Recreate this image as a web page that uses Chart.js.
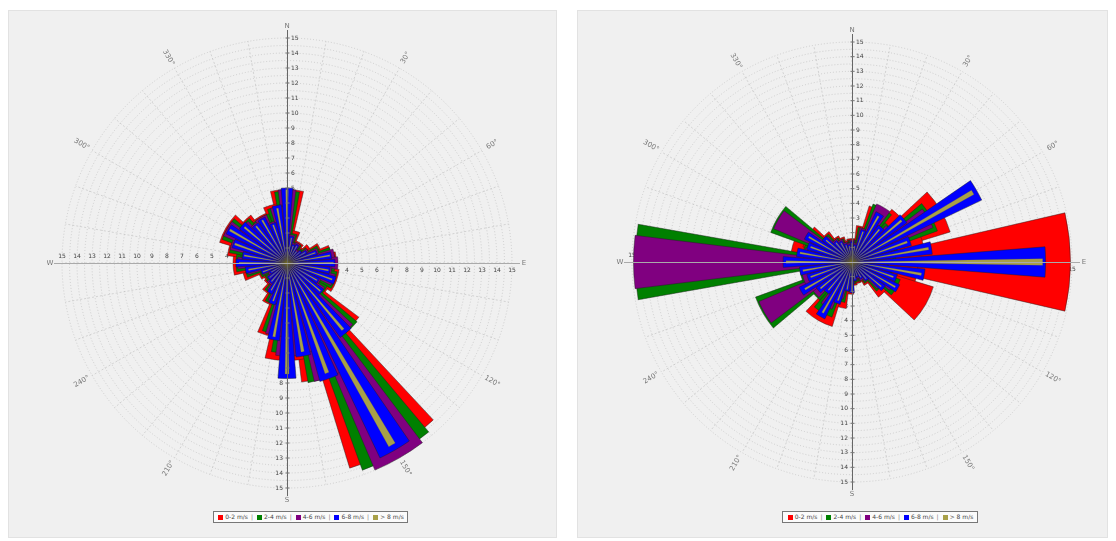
<!DOCTYPE html>
<html>
<head>
<meta charset="utf-8">
<script src="https://cdn.jsdelivr.net/npm/chart.js@4.4.1/dist/chart.umd.min.js"></script>
<style>
  body { margin: 0; background: #fff; font-family: "DejaVu Sans", sans-serif; }
  .panel { position: absolute; top: 10px; height: 528px; background: #f0f0f0; border: 1px solid #e2e2e2; box-sizing: border-box; }
  .box { position: absolute; width: 480px; height: 480px; }
  .legend { position: absolute; top: 511px; height: 12px; box-sizing: border-box; border: 1px solid #777;
            background: #fbfbfb; font-size: 6px; color: #444; white-space: nowrap; line-height: 10px;
            padding: 0 2px; text-align: center; }
  .legend span.sw { display: inline-block; width: 5px; height: 5px; margin: 0 2px 0 1px; vertical-align: -0.5px; }
  .legend span.sep { color: #777; margin: 0 3px; }
</style>
</head>
<body>
<div class="panel" style="left:8px;width:549px"></div>
<div class="panel" style="left:577px;width:531px"></div>
<div class="box" style="left:47px;top:23px"><canvas id="roseLeft"></canvas></div>
<div class="box" style="left:612px;top:22px"><canvas id="roseRight"></canvas></div>
<div class="legend" id="legendLeft" style="left:213px;width:195px"></div>
<div class="legend" id="legendRight" style="left:782px;width:196px"></div>

<script>
// 36 directions, 10 degrees apart, clockwise from north
const directions = Array.from({ length: 36 }, (_, i) => i * 10 + '°');
const compassLabels = ['N', '30°', '60°', 'E', '120°', '150°', 'S', '210°', '240°', 'W', '300°', '330°'];
const radialTicks = [1, 2, 3, 4, 5, 6, 7, 8, 9, 10, 11, 12, 13, 14, 15];

const speedBins = ['0-2 m/s', '2-4 m/s', '4-6 m/s', '6-8 m/s', '> 8 m/s'];
const binColors = ['#ff0000', '#008000', '#800080', '#0000ff', '#a8a048'];
const binHalfWidths = [13, 10, 7, 4.5, 1]; // degrees each side of the direction

// left rose
const leftRed    = [4.9, 2.2, 1.5, 1.6, 1.2, 1.4, 1.8, 2.4, 3.0, 3.3, 3.1, 3.5, 2.6, 3.2, 6.0, 14.3, 8.0, 6.2, 6.5, 5.0, 3.0, 2.4, 1.9, 1.8, 1.5, 2.0, 3.0, 3.6, 3.2, 4.0, 4.7, 4.0, 3.5, 3.6, 3.0, 4.0];
const leftGreen  = [4.8, 2.0, 1.4, 1.5, 1.1, 1.3, 1.6, 2.3, 3.0, 3.2, 3.0, 3.4, 2.5, 3.1, 6.1, 14.7, 8.1, 6.0, 6.0, 4.8, 2.9, 2.3, 1.8, 1.7, 1.4, 1.9, 2.8, 3.4, 3.1, 3.9, 4.6, 3.9, 3.4, 3.5, 2.9, 3.8];
const leftPurple = [4.9, 1.9, 1.4, 1.5, 1.1, 1.2, 1.6, 2.2, 3.2, 3.4, 3.0, 3.3, 2.5, 3.0, 6.0, 15.0, 8.1, 6.1, 6.2, 4.9, 2.8, 2.2, 1.8, 1.6, 1.4, 1.8, 2.7, 3.3, 3.0, 3.9, 4.6, 3.8, 3.4, 3.5, 2.9, 3.8];
const leftBlue   = [5.0, 1.8, 1.3, 1.4, 1.0, 1.2, 1.5, 2.1, 3.0, 3.2, 2.9, 3.4, 2.4, 3.0, 6.1, 14.4, 8.2, 6.3, 7.7, 5.2, 2.9, 2.3, 1.7, 1.6, 1.3, 1.8, 2.8, 3.4, 3.0, 3.8, 4.5, 3.9, 3.3, 3.4, 2.8, 3.9];
const leftOlive  = [4.9, 1.7, 1.2, 1.3, 1.0, 1.1, 1.4, 2.0, 2.9, 3.1, 2.8, 3.2, 2.3, 2.9, 5.8, 14.0, 7.8, 6.0, 7.4, 5.0, 2.7, 2.1, 1.6, 1.5, 1.2, 1.7, 2.6, 3.2, 2.9, 3.7, 4.4, 3.7, 3.2, 3.3, 2.7, 3.7];

// right rose
const rightRed    = [1.6, 1.4, 2.5, 4.0, 3.2, 4.5, 7.0, 4.0, 5.0, 14.9, 4.5, 3.2, 5.8, 3.0, 1.8, 1.5, 1.3, 1.5, 1.6, 2.2, 3.2, 4.6, 2.8, 3.0, 2.5, 2.5, 3.0, 2.8, 4.2, 3.3, 3.5, 2.6, 2.0, 1.8, 1.5, 1.4];
const rightGreen  = [1.5, 1.3, 2.4, 4.2, 3.0, 3.5, 6.2, 3.2, 3.0, 1.2, 2.5, 2.8, 3.5, 2.6, 1.7, 1.4, 1.2, 1.4, 1.5, 2.0, 2.8, 4.0, 2.6, 3.4, 7.0, 3.6, 2.8, 14.8, 3.4, 3.2, 5.9, 2.5, 1.9, 1.7, 1.4, 1.3];
const rightPurple = [1.5, 1.3, 2.4, 4.3, 3.0, 3.4, 6.0, 3.0, 2.8, 1.5, 2.4, 2.7, 3.2, 2.5, 1.6, 1.4, 1.2, 1.3, 1.5, 1.9, 2.6, 3.5, 2.5, 3.3, 6.9, 3.5, 2.7, 14.9, 3.3, 3.1, 5.8, 2.4, 1.9, 1.7, 1.4, 1.3];
const rightBlue   = [1.4, 1.2, 2.3, 3.8, 3.1, 4.6, 9.8, 4.2, 5.5, 13.2, 5.0, 3.2, 3.6, 2.8, 1.6, 1.3, 1.1, 1.3, 2.1, 2.0, 3.0, 4.3, 2.7, 3.0, 4.0, 3.2, 3.6, 4.7, 3.8, 3.2, 3.6, 2.5, 1.8, 1.6, 1.3, 1.2];
const rightOlive  = [1.3, 1.1, 2.2, 3.6, 2.9, 4.4, 9.5, 4.0, 5.3, 13.0, 4.8, 3.0, 3.4, 2.6, 1.5, 1.2, 1.0, 1.2, 2.0, 1.9, 2.8, 4.0, 2.5, 2.8, 3.7, 3.0, 3.4, 4.5, 3.6, 3.0, 3.4, 2.3, 1.7, 1.5, 1.2, 1.1];

const roseDecor = {
  id: 'roseDecor',
  afterDatasetsUpdate(chart) {
    // narrow each layer to its own angular width around the direction
    const scale = chart.scales.r;
    chart.data.datasets.forEach((ds, d) => {
      const half = ds.halfWidth * Math.PI / 180;
      chart.getDatasetMeta(d).data.forEach((arc, i) => {
        const mid = scale.getIndexAngle(i) - Math.PI / 2;
        arc.startAngle = mid - half;
        arc.endAngle = mid + half;
        arc.circumference = 2 * half;
      });
    });
  },
  beforeDatasetsDraw(chart) {
    const ctx = chart.ctx;
    const s = chart.scales.r;
    const cx = s.xCenter, cy = s.yCenter;
    ctx.save();
    ctx.font = '6px "DejaVu Sans"';
    ctx.fillStyle = '#444';
    radialTicks.forEach(v => {
      const d = s.getDistanceFromCenterForValue(v);
      ctx.textAlign = 'left'; ctx.textBaseline = 'middle';
      ctx.fillText(v, cx + 4, cy - d);
      ctx.textAlign = 'right';
      ctx.fillText(v, cx - 4, cy + d);
      ctx.textAlign = 'center'; ctx.textBaseline = 'top';
      ctx.fillText(v, cx + d, cy + 4);
      ctx.textBaseline = 'bottom';
      ctx.fillText(v, cx - d, cy - 4);
    });
    // compass labels outside the ring
    ctx.font = '7px "DejaVu Sans"';
    ctx.fillStyle = '#777';
    ctx.textAlign = 'center'; ctx.textBaseline = 'middle';
    compassLabels.forEach((txt, k) => {
      const p = s.getPointPosition(k * 3, s.drawingArea + 12);
      ctx.save();
      ctx.translate(p.x, p.y);
      if (k % 3 !== 0) {
        let a = s.getIndexAngle(k * 3) - Math.PI / 2;
        if (k > 6) a += Math.PI;
        ctx.rotate(a);
      }
      ctx.fillText(txt, 0, 0);
      ctx.restore();
    });
    ctx.restore();
  },
  afterDatasetsDraw(chart) {
    const ctx = chart.ctx;
    const s = chart.scales.r;
    const cx = s.xCenter, cy = s.yCenter, R = s.drawingArea + 8;
    ctx.save();
    ctx.lineWidth = 1;
    ctx.strokeStyle = '#666';
    ctx.beginPath();
    ctx.moveTo(cx + 0.5, cy - R); ctx.lineTo(cx + 0.5, cy + R);
    ctx.stroke();
    ctx.strokeStyle = '#aaa';
    ctx.beginPath();
    ctx.moveTo(cx - R, cy + 0.5); ctx.lineTo(cx + R, cy + 0.5);
    ctx.stroke();
    ctx.strokeStyle = '#777';
    radialTicks.forEach(v => {
      const d = s.getDistanceFromCenterForValue(v);
      ctx.beginPath();
      ctx.moveTo(cx - 1.5, cy - d); ctx.lineTo(cx + 2.5, cy - d);
      ctx.moveTo(cx - 1.5, cy + d); ctx.lineTo(cx + 2.5, cy + d);
      ctx.stroke();
    });
    ctx.restore();
  }
};

function buildRose(id, layers) {
  const ctx = document.getElementById(id).getContext('2d');
  return new Chart(ctx, {
    type: 'polarArea',
    data: {
      labels: directions,
      datasets: layers.map((vals, k) => ({
        label: speedBins[k],
        data: vals,
        backgroundColor: binColors[k],
        borderColor: k === 4 ? 'rgba(120,110,40,0.8)' : 'rgba(30,30,30,0.75)',
        borderWidth: k === 4 ? 0.3 : 0.6,
        halfWidth: binHalfWidths[k],
        order: layers.length - 1 - k
      }))
    },
    options: {
      responsive: true,
      maintainAspectRatio: false,
      animation: false,
      layout: { padding: id === 'roseLeft' ? 15 : 20 },
      plugins: { legend: { display: false }, tooltip: { enabled: false } },
      scales: {
        r: {
          min: 0,
          max: 15,
          startAngle: 0,
          ticks: { display: false, stepSize: 0.5 },
          grid: { circular: true, color: '#b9b9b9', lineWidth: 0.6 },
          border: { dash: [1, 2] },
          angleLines: { display: true, color: '#bdbdbd', lineWidth: 0.6, borderDash: [2, 2] },
          pointLabels: { display: false }
        }
      }
    },
    plugins: [roseDecor]
  });
}

function buildLegend(id) {
  const el = document.getElementById(id);
  el.innerHTML = speedBins.map((b, k) =>
    '<span class="sw" style="background:' + binColors[k] + '"></span>' + b
  ).join('<span class="sep">|</span>');
}

buildRose('roseLeft', [leftRed, leftGreen, leftPurple, leftBlue, leftOlive]);
buildRose('roseRight', [rightRed, rightGreen, rightPurple, rightBlue, rightOlive]);
buildLegend('legendLeft');
buildLegend('legendRight');
</script>
</body>
</html>
